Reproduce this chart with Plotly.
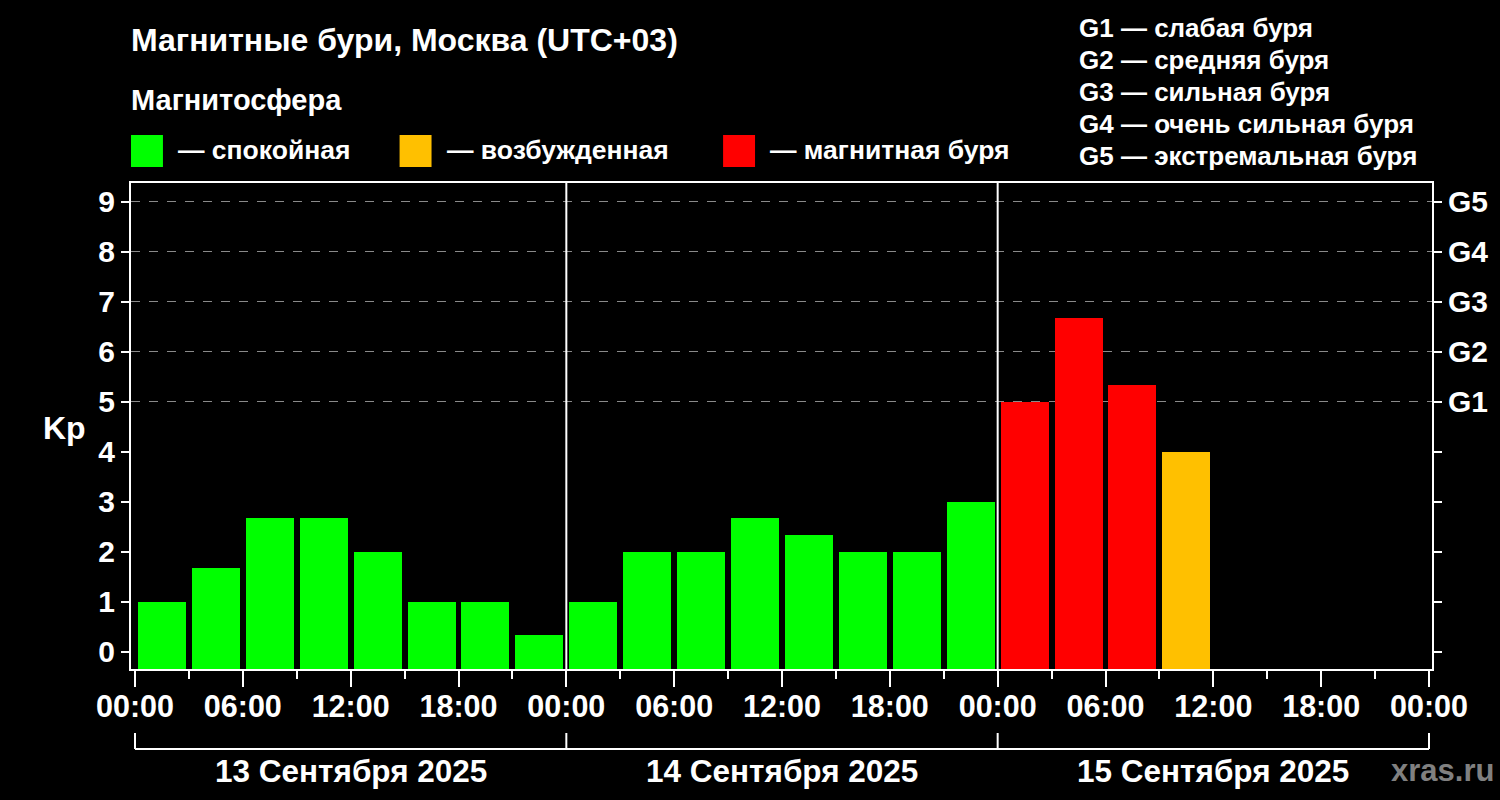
import plotly.graph_objects as go
from datetime import datetime, timedelta

# ---- data ----
slot_starts = [
    "2025-09-13 00:00", "2025-09-13 03:00", "2025-09-13 06:00", "2025-09-13 09:00",
    "2025-09-13 12:00", "2025-09-13 15:00", "2025-09-13 18:00", "2025-09-13 21:00",
    "2025-09-14 00:00", "2025-09-14 03:00", "2025-09-14 06:00", "2025-09-14 09:00",
    "2025-09-14 12:00", "2025-09-14 15:00", "2025-09-14 18:00", "2025-09-14 21:00",
    "2025-09-15 00:00", "2025-09-15 03:00", "2025-09-15 06:00", "2025-09-15 09:00",
]
kp_values = [1.0, 1.67, 2.67, 2.67, 2.0, 1.0, 1.0, 0.33,
             1.0, 2.0, 2.0, 2.67, 2.33, 2.0, 2.0, 3.0,
             5.0, 6.67, 5.33, 4.0]
days = ["2025-09-13", "2025-09-14", "2025-09-15", "2025-09-16"]
day_labels = ["13 Сентября 2025", "14 Сентября 2025", "15 Сентября 2025"]
g_levels = [5, 6, 7, 8, 9]
g_labels = ["G1", "G2", "G3", "G4", "G5"]
g_legend = ["G1 — слабая буря", "G2 — средняя буря", "G3 — сильная буря",
            "G4 — очень сильная буря", "G5 — экстремальная буря"]
state_labels = ["— спокойная", "— возбужденная", "— магнитная буря"]
state_colors = ["#00FF00", "#FFC000", "#FF0000"]

FONT = "Arial, Liberation Sans, sans-serif"
WHITE = "#FFFFFF"

W, H = 1500, 800
# plot area in window pixels
L, R, T, B = 131, 1434, 183, 669
def px(x):
    return (x - L) / (R - L)
def py(y):
    return (B - y) / (B - T)

def color_for(v):
    if v >= 5:
        return state_colors[2]
    if v >= 4:
        return state_colors[1]
    return state_colors[0]

starts = [datetime.strptime(s, "%Y-%m-%d %H:%M") for s in slot_starts]
centers = [s + timedelta(minutes=90) for s in starts]
ymin, ymax = -0.35, 9.37

fig = go.Figure()
fig.add_trace(go.Bar(
    x=centers, y=[v - ymin for v in kp_values], base=ymin,
    width=2.667 * 3600 * 1000,
    marker=dict(color=[color_for(v) for v in kp_values], line=dict(width=0)),
    customdata=kp_values, hovertemplate="%{x}<br>Kp=%{customdata}<extra></extra>",
    showlegend=False,
))
fig.add_trace(go.Scatter(x=[centers[0]], y=[0], yaxis="y2", mode="markers",
                         marker=dict(opacity=0), showlegend=False, hoverinfo="skip"))

shapes = []
for d in days[1:-1]:
    shapes.append(dict(type="line", xref="x", yref="paper", x0=d, x1=d, y0=0, y1=1,
                       line=dict(color=WHITE, width=2), layer="above"))
shapes.append(dict(type="line", xref="x", yref="paper", x0=days[0], x1=days[-1],
                   y0=py(749), y1=py(749), line=dict(color=WHITE, width=2)))
for d in days:
    shapes.append(dict(type="line", xref="x", yref="paper", x0=d, x1=d,
                       y0=py(749), y1=py(733), line=dict(color=WHITE, width=2)))
sq_x = [131, 400, 724]
for xx, c in zip(sq_x, state_colors):
    shapes.append(dict(type="rect", xref="paper", yref="paper",
                       x0=px(xx), x1=px(xx + 32), y0=py(167), y1=py(135),
                       fillcolor=c, line=dict(width=0)))

def ann(text, x, y, size, color=WHITE, xanchor="left", xref="paper"):
    return dict(text="<b>" + text + "</b>", xref=xref, yref="paper",
                x=x, y=py(y), xanchor=xanchor, yanchor="middle", showarrow=False,
                font=dict(size=size, color=color, family=FONT))

annotations = [
    ann("Магнитные бури, Москва (UTC+03)", px(129), 40, 32),
    ann("Магнитосфера", px(129), 100, 29),
    ann("Kp", px(64), 428, 32, xanchor="center"),
    ann("xras.ru", px(1445), 770, 31, color="#808080", xanchor="center"),
]
lab_x = [176, 445, 769]
for xx, t in zip(lab_x, state_labels):
    annotations.append(ann(t, px(xx), 150, 26.5))
for i, t in enumerate(g_legend):
    annotations.append(ann(t, px(1078), 28 + 32 * i, 26))
for i, t in enumerate(day_labels):
    mid = datetime.strptime(days[i], "%Y-%m-%d") + timedelta(hours=12)
    annotations.append(ann(t, mid, 771, 31.5, xanchor="center", xref="x"))

x0 = datetime(2025, 9, 13) - timedelta(hours=4 / 18)
x1 = datetime(2025, 9, 16) + timedelta(hours=3 / 18)

fig.update_layout(
    width=W, height=H,
    paper_bgcolor="#000000", plot_bgcolor="#000000",
    margin=dict(l=L, r=W - R, t=T, b=H - B, pad=0),
    font=dict(family=FONT, color=WHITE),
    bargap=0,
    xaxis=dict(
        type="date", range=[x0, x1],
        tick0="2025-09-13", dtick=6 * 3600 * 1000, tickformat="<b>%H:%M</b>",
        ticks="outside", ticklen=16, tickwidth=2, tickcolor=WHITE,
        ticklabelstandoff=-7,
        minor=dict(dtick=3 * 3600 * 1000, tick0="2025-09-13", ticks="outside",
                   ticklen=8, tickwidth=2, tickcolor=WHITE, showgrid=False),
        showline=True, linecolor=WHITE, linewidth=2, mirror=True,
        showgrid=False, zeroline=False,
        tickfont=dict(size=30.5, color=WHITE, family=FONT),
    ),
    yaxis=dict(
        range=[ymin, ymax], tickvals=list(range(10)),
        ticktext=["<b>%d</b>" % v for v in range(10)],
        ticks="outside", ticklen=8, tickwidth=2, tickcolor=WHITE,
        showline=True, linecolor=WHITE, linewidth=2,
        showgrid=False, zeroline=False,
        tickfont=dict(size=30, color=WHITE, family=FONT),
    ),
    yaxis2=dict(
        overlaying="y", side="right", range=[ymin, ymax],
        tickvals=g_levels, ticktext=["<b>%s</b>" % t for t in g_labels],
        ticks="outside", ticklen=8, tickwidth=2, tickcolor=WHITE,
        minor=dict(tickvals=[0, 1, 2, 3, 4], ticks="outside", ticklen=8,
                   tickwidth=2, tickcolor=WHITE, showgrid=False),
        showline=True, linecolor=WHITE, linewidth=2,
        showgrid=True, gridcolor="#8a8a8a", griddash="dash", gridwidth=1,
        zeroline=False,
        tickfont=dict(size=30, color=WHITE, family=FONT),
    ),
    shapes=shapes, annotations=annotations,
)

fig.write_html(
    "out.html",
    config={"displayModeBar": False},
    post_script="document.body.style.margin='0px';document.body.style.background='#000000';",
)
